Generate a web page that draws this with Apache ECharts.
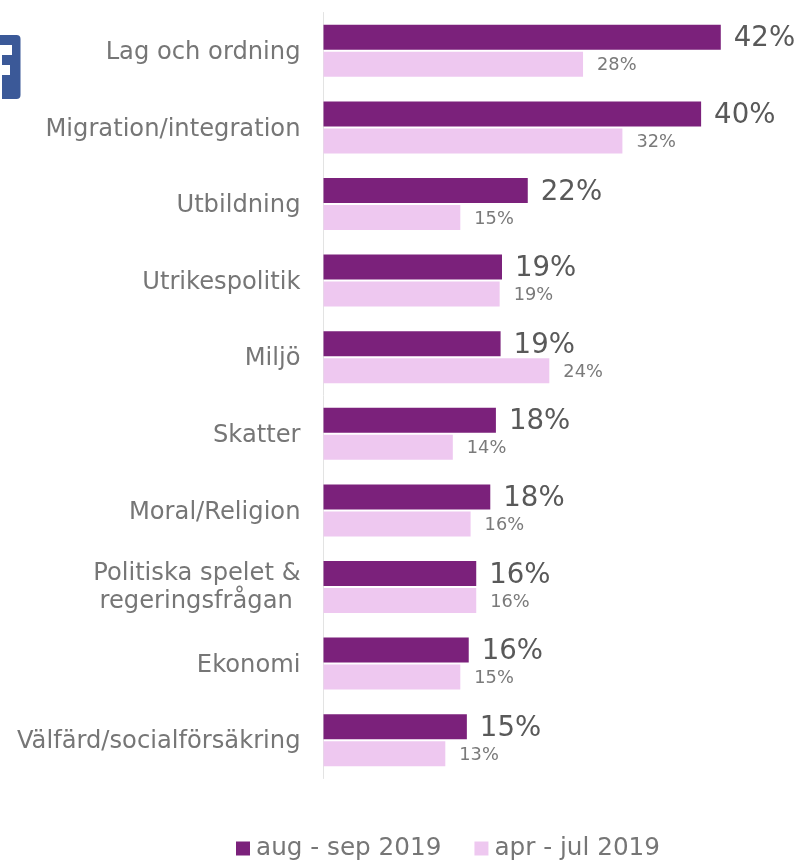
<!DOCTYPE html>
<html>
<head>
<meta charset="utf-8">
<style>
  html, body { margin: 0; padding: 0; background: #fff; }
  #chart { width: 802px; height: 862px; }
</style>
<script src="https://cdn.jsdelivr.net/npm/echarts@6/dist/echarts.min.js"></script>
</head>
<body>
<div id="chart"></div>
<script>
const categories = ['Lag och ordning', 'Migration/integration', 'Utbildning', 'Utrikespolitik', 'Miljö', 'Skatter', 'Moral/Religion', 'Politiska spelet &\nregeringsfrågan ', 'Ekonomi', 'Välfärd/socialförsäkring'];
const augSep = [42.4, 40.3, 21.8, 19.05, 18.9, 18.4, 17.8, 16.3, 15.5, 15.3];
const aprJul = [27.7, 31.9, 14.6, 18.8, 24.1, 13.8, 15.7, 16.3, 14.6, 13.0];

const font = '"DejaVu Sans", Verdana, sans-serif';
const chart = echarts.init(document.getElementById('chart'), null, { renderer: 'canvas' });

const pct = p => Math.round(p.value) + '%';
const catStyle = { fontSize: 24.2, color: '#767676', fontFamily: font, lineHeight: 29, align: 'right' };

const option = {
  animation: false,
  textStyle: { fontFamily: font },
  grid: { left: 323.5, top: 12.5, width: 468.5, height: 766 },
  xAxis: { type: 'value', min: 0, max: 50, show: false },
  yAxis: {
    type: 'category',
    inverse: true,
    data: categories,
    axisTick: { show: false },
    axisLine: { lineStyle: { color: '#e3e3e3', width: 1 } },
    axisLabel: {
      margin: 23, fontSize: 24.2, color: '#767676', lineHeight: 29, fontFamily: font, align: 'right',
      // rich padding nudges the labels down a little, the plain label ignores it
      formatter: v => v.includes('\n')
        ? v.split('\n').map((s, i) => `{${i ? 't' : 'p'}|${s}}`).join('\n')
        : `{s|${v}}`,
      rich: {
        s: { ...catStyle, padding: [4, 0, 0, 0] },
        p: { ...catStyle, padding: [2, 0, 0, 0] },
        t: catStyle
      }
    }
  },
  legend: {
    top: 831,
    left: 231,
    itemWidth: 14,
    itemHeight: 14,
    itemGap: 33,
    icon: 'rect',
    textStyle: { fontSize: 24.7, color: '#767676', fontFamily: font, padding: [0, 0, 0, 1] }
  },
  series: [
    {
      name: 'aug - sep 2019',
      type: 'bar',
      data: augSep,
      barWidth: 25,
      barGap: '8%',
      itemStyle: { color: '#7b217b' },
      label: {
        show: true, position: 'right', distance: 13, offset: [0, 2], formatter: pct,
        fontSize: 27.6, color: '#595959', fontFamily: font
      }
    },
    {
      name: 'apr - jul 2019',
      type: 'bar',
      data: aprJul,
      barWidth: 25,
      itemStyle: { color: '#eec8f0' },
      label: {
        show: true, position: 'right', distance: 14, offset: [0, 1.5], formatter: pct,
        fontSize: 17.8, color: '#7a7a7a', fontFamily: font
      }
    }
  ],
  graphic: [
    { type: 'rect', shape: { x: -12, y: 35, width: 32.5, height: 64, r: 4 }, style: { fill: '#3b5998' } },
    // the white f of the logo, cut off by the left edge
    { type: 'rect', shape: { x: -8, y: 45, width: 20, height: 10, r: [6, 0, 0, 0] }, style: { fill: '#fff' } },
    { type: 'rect', shape: { x: -8, y: 65, width: 18, height: 10 }, style: { fill: '#fff' } },
    { type: 'rect', shape: { x: -8, y: 45, width: 10, height: 54 }, style: { fill: '#fff' } }
  ]
};

chart.setOption(option);
</script>
</body>
</html>
